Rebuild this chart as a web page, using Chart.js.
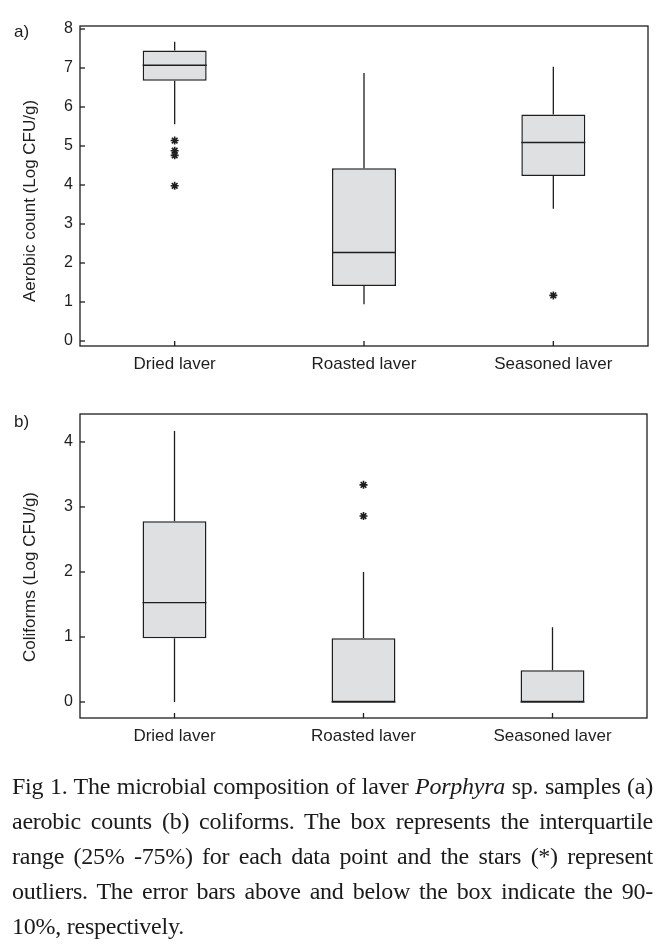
<!DOCTYPE html>
<html>
<head>
<meta charset="utf-8">
<script src="https://cdn.jsdelivr.net/npm/chart.js@4.4.1/dist/chart.umd.min.js"></script>
<style>
  body { margin: 0; background: #fff; width: 664px; height: 947px; overflow: hidden; position: relative; }
  canvas { position: absolute; left: 0; }
  #chartA { top: 0; }
  #chartB { top: 390px; }
  #caption {
    position: absolute; left: 12px; top: 769px; width: 641px;
    font-family: "Liberation Serif", "Times New Roman", serif;
    font-size: 24px; line-height: 35px; letter-spacing: -0.25px; color: #1a1a1a;
  }
  #caption div { text-align: justify; text-align-last: justify; white-space: nowrap; }
  #caption div.last { text-align-last: left; }
</style>
</head>
<body>
<canvas id="chartA" width="664" height="380"></canvas>
<canvas id="chartB" width="664" height="380"></canvas>
<div id="caption">
  <div>Fig 1. The microbial composition of laver <i>Porphyra</i> sp. samples (a)</div>
  <div>aerobic counts (b) coliforms. The box represents the interquartile</div>
  <div>range (25% -75%) for each data point and the stars (*) represent</div>
  <div>outliers. The error bars above and below the box indicate the 90-</div>
  <div class="last">10%, respectively.</div>
</div>
<script>
const categories = ['Dried laver', 'Roasted laver', 'Seasoned laver'];

// a) aerobic count, Log CFU/g
const aerobicLow = [5.56, 0.94, 3.39];     // 10%
const aerobicQ1 = [6.67, 1.41, 4.23];      // 25%
const aerobicMedian = [7.07, 2.27, 5.09];
const aerobicQ3 = [7.45, 4.43, 5.81];      // 75%
const aerobicHigh = [7.67, 6.87, 7.03];    // 90%
const aerobicOutliers = [[5.14, 4.88, 4.76, 3.98], [], [1.17]];
const aerobicTicks = [0, 1, 2, 3, 4, 5, 6, 7, 8];

// b) coliforms, Log CFU/g
const coliLow = [0, 0, 0];
const coliQ1 = [0.98, 0, 0];
const coliMedian = [1.53, 0, 0];
const coliQ3 = [2.78, 0.98, 0.49];
const coliHigh = [4.17, 2.0, 1.15];
const coliOutliers = [[], [3.34, 2.86], []];
const coliTicks = [0, 1, 2, 3, 4];

const ink = '#1e1e1e';
const sans = '"Liberation Sans", Arial, sans-serif';

// whiskers, medians, frame, inward ticks and labels
function boxDecor(box, txt) {
  return {
    id: 'boxDecor',
    afterDatasetsDraw(chart) {
      const { ctx, chartArea: a, scales: { x, y } } = chart;
      const half = chart.getDatasetMeta(0).data[0].width / 2;
      const line = (x1, y1, x2, y2) => {
        ctx.beginPath(); ctx.moveTo(x1, y1); ctx.lineTo(x2, y2); ctx.stroke();
      };
      ctx.save();
      ctx.strokeStyle = ink;
      ctx.lineWidth = 1.3;
      box.q1.forEach((q1, i) => {
        const px = x.getPixelForValue(i);
        if (box.low[i] < q1) line(px, y.getPixelForValue(box.low[i]), px, y.getPixelForValue(q1));
        line(px, y.getPixelForValue(box.q3[i]), px, y.getPixelForValue(box.high[i]));
        const my = y.getPixelForValue(box.median[i]);
        line(px - half, my, px + half, my);
      });
      ctx.strokeRect(a.left, a.top, a.width, a.height);
      y.ticks.forEach(t => {
        const py = y.getPixelForValue(t.value);
        line(a.left, py, a.left + 5, py);
      });
      categories.forEach((c, i) => {
        const px = x.getPixelForValue(i);
        line(px, a.bottom, px, a.bottom - 5);
      });

      ctx.fillStyle = ink;
      ctx.font = '17px ' + sans;
      ctx.textAlign = 'left';
      ctx.textBaseline = 'middle';
      ctx.fillText(txt.panel, 14, txt.panelY);
      ctx.translate(30, txt.titleY);
      ctx.rotate(-Math.PI / 2);
      ctx.textAlign = 'center';
      ctx.fillText(txt.title, 0, 0);
      ctx.restore();
    }
  };
}

function makeBox(id, box, outliers, ticks, yMin, yMax, lay, txt) {
  const points = [];
  outliers.forEach((list, i) => list.forEach(v => points.push({ x: categories[i], y: v })));

  return new Chart(document.getElementById(id), {
    type: 'bar',
    data: {
      labels: categories,
      datasets: [
        {
          data: box.q1.map((v, i) => [v, box.q3[i]]),
          backgroundColor: '#dfe0e2',
          borderColor: ink,
          borderWidth: 1.5,
          borderSkipped: false,
          barPercentage: 0.338,
          categoryPercentage: 1
        },
        {
          type: 'line',
          data: points,
          showLine: false,
          pointStyle: 'star',
          pointRadius: 4,
          borderColor: ink,
          borderWidth: 1.6
        }
      ]
    },
    options: {
      responsive: false,
      animation: false,
      layout: { padding: { top: lay.top, right: lay.right, left: 0, bottom: 0 } },
      plugins: { legend: { display: false }, tooltip: { enabled: false } },
      scales: {
        x: {
          grid: { display: false, drawTicks: false },
          border: { display: false },
          ticks: { color: ink, font: { family: sans, size: 17 }, padding: 8 },
          afterFit: s => { s.height = lay.xHeight; }
        },
        y: {
          min: yMin,
          max: yMax,
          grid: { display: false, drawTicks: false },
          border: { display: false },
          ticks: { color: ink, font: { family: sans, size: 16 }, padding: 7 },
          afterBuildTicks: s => { s.ticks = ticks.map(v => ({ value: v })); },
          afterFit: s => { s.width = 80; }
        }
      }
    },
    plugins: [boxDecor(box, txt)]
  });
}

makeBox('chartA',
  { low: aerobicLow, q1: aerobicQ1, median: aerobicMedian, q3: aerobicQ3, high: aerobicHigh },
  aerobicOutliers, aerobicTicks, -0.128, 8.077,
  { top: 26, right: 16, xHeight: 34 },
  { panel: 'a)', panelY: 32, title: 'Aerobic count (Log CFU/g)', titleY: 201 });

makeBox('chartB',
  { low: coliLow, q1: coliQ1, median: coliMedian, q3: coliQ3, high: coliHigh },
  coliOutliers, coliTicks, -0.246, 4.43,
  { top: 24, right: 17, xHeight: 52 },
  { panel: 'b)', panelY: 32, title: 'Coliforms (Log CFU/g)', titleY: 187 });
</script>
</body>
</html>
